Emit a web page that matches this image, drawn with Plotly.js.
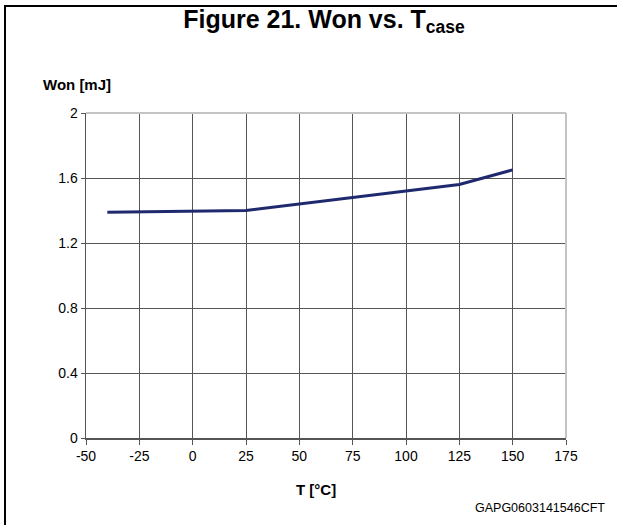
<!DOCTYPE html>
<html>
<head>
<meta charset="utf-8">
<script src="https://cdn.plot.ly/plotly-3.0.1.min.js"></script>
<style>
html,body{margin:0;padding:0;background:#fff;}
#wrap{position:relative;width:617px;height:525px;}
#chart{width:617px;height:525px;}
#frame{position:absolute;left:4px;top:5px;right:0;bottom:0;border-left:2px solid #000;border-top:2px solid #000;pointer-events:none;}
</style>
</head>
<body>
<div id="wrap">
<div id="chart"></div>
<div id="frame"></div>
</div>
<script>
const temperature = [-40, 25, 125, 150];
const won = [1.39, 1.40, 1.56, 1.65];
const xTicks = [-50, -25, 0, 25, 50, 75, 100, 125, 150, 175];
const yTicks = [0, 0.4, 0.8, 1.2, 1.6, 2];
const yTickLabels = ['0', '0.4', '0.8', '1.2', '1.6', '2'];

const font = 'Liberation Sans, Arial, sans-serif';

const trace = {
  x: temperature,
  y: won,
  type: 'scatter',
  mode: 'lines',
  line: {color: '#1f2a6e', width: 3},
  hoverinfo: 'skip'
};

const layout = {
  width: 617,
  height: 525,
  margin: {l: 86, r: 51, t: 113, b: 87},
  paper_bgcolor: '#fff',
  plot_bgcolor: '#fff',
  showlegend: false,
  font: {family: font, size: 13, color: '#000'},
  title: {
    text: '<b>Figure 21. Won vs. T<sub>case</sub></b>',
    font: {family: font, size: 25, color: '#000'},
    x: 324 / 617, xref: 'container', xanchor: 'center',
    y: 1 - 19 / 525, yref: 'container', yanchor: 'middle'
  },
  xaxis: {
    range: [-50, 175],
    tickvals: xTicks,
    ticktext: xTicks.map(String),
    showgrid: true,
    gridcolor: '#555',
    gridwidth: 1,
    zeroline: false,
    showline: true,
    linecolor: '#555',
    linewidth: 1.5,
    ticks: 'outside',
    ticklen: 5,
    tickcolor: '#555',
    tickfont: {family: font, size: 14, color: '#000'},
    fixedrange: true
  },
  yaxis: {
    range: [0, 2],
    tickvals: yTicks,
    ticktext: yTickLabels,
    showgrid: true,
    gridcolor: '#555',
    gridwidth: 1,
    zeroline: false,
    showline: true,
    linecolor: '#555',
    linewidth: 1.5,
    ticks: 'outside',
    ticklen: 4,
    tickcolor: '#555',
    tickfont: {family: font, size: 14, color: '#000'},
    fixedrange: true
  },
  shapes: [
    {type: 'line', xref: 'paper', yref: 'paper', x0: 0, x1: 1, y0: 1, y1: 1, line: {color: '#c4c4c4', width: 2}, layer: 'above'},
    {type: 'line', xref: 'paper', yref: 'paper', x0: 1, x1: 1, y0: 0, y1: 1, line: {color: '#c4c4c4', width: 2}, layer: 'above'}
  ],
  annotations: [
    {text: '<b>Won [mJ]</b>', xref: 'paper', yref: 'paper', x: (41 - 86) / 480, y: (438 - 85) / 325,
     xanchor: 'left', yanchor: 'middle', showarrow: false, font: {family: font, size: 15, color: '#000'}},
    {text: '<b>T [°C]</b>', xref: 'paper', yref: 'paper', x: (316 - 86) / 480, y: (438 - 489) / 325,
     xanchor: 'center', yanchor: 'middle', showarrow: false, font: {family: font, size: 15, color: '#000'}},
    {text: 'GAPG0603141546CFT', xref: 'paper', yref: 'paper', x: (607 - 86) / 480, y: (438 - 508) / 325,
     xanchor: 'right', yanchor: 'middle', showarrow: false, font: {family: font, size: 12.5, color: '#000'}}
  ]
};

Plotly.newPlot('chart', [trace], layout, {displayModeBar: false, staticPlot: true});
</script>
</body>
</html>
